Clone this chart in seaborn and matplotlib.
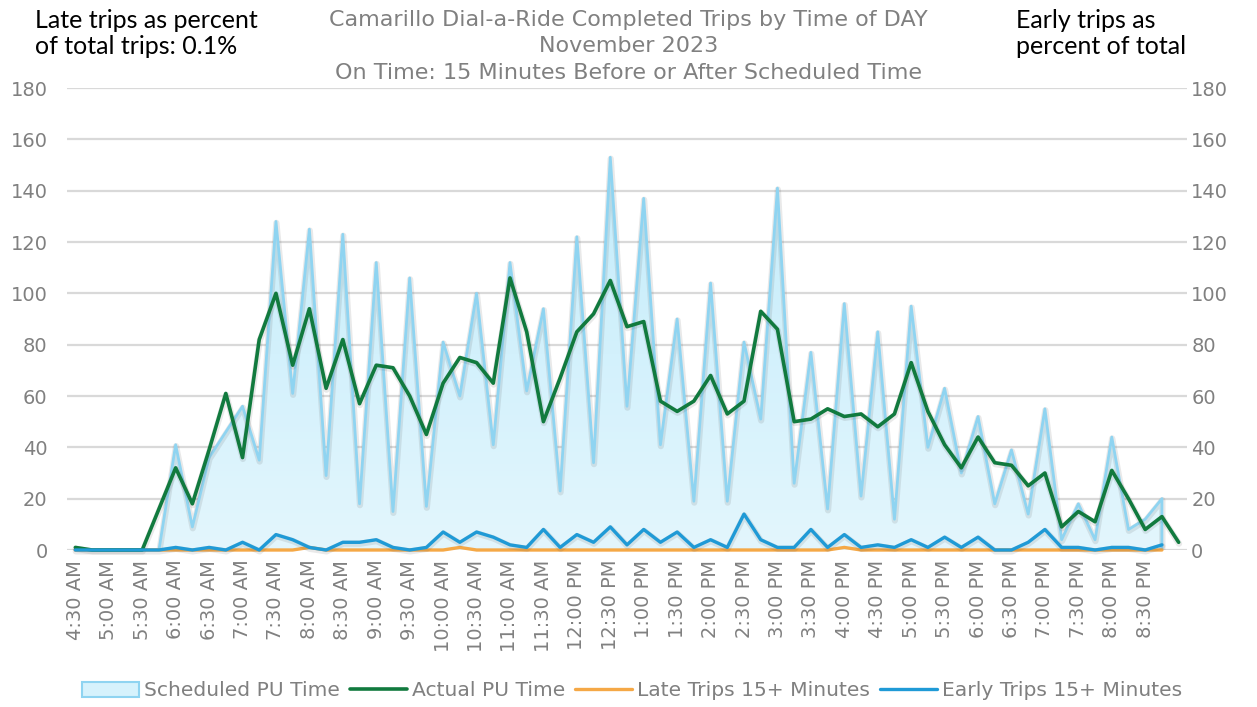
import matplotlib
matplotlib.use("Agg")
import matplotlib.pyplot as plt
import matplotlib.patheffects as pe
from matplotlib.colors import LinearSegmentedColormap
from matplotlib.patches import Patch
from matplotlib.lines import Line2D
import numpy as np
import pandas as pd
import seaborn as sns

# trips per 15-minute slot, 4:30 AM .. 9:00 PM
scheduled = [0, 0, 0, 0, 0, 0, 41, 9, 36, 46, 56, 35, 128, 61, 125, 29, 123, 18, 112, 15,
             106, 17, 81, 60, 100, 41, 112, 62, 94, 23, 122, 34, 153, 56, 137, 41, 90, 19, 104, 19,
             81, 51, 141, 26, 77, 16, 96, 21, 85, 12, 95, 40, 63, 30, 52, 18, 39, 14, 55, 4,
             18, 4, 44, 8, 12, 20]
actual = [1, 0, 0, 0, 0, 16, 32, 18, 39, 61, 36, 82, 100, 72, 94, 63, 82, 57, 72, 71,
          60, 45, 65, 75, 73, 65, 106, 85, 50, 67, 85, 92, 105, 87, 89, 58, 54, 58, 68, 53,
          58, 93, 86, 50, 51, 55, 52, 53, 48, 53, 73, 54, 41, 32, 44, 34, 33, 25, 30, 9,
          15, 11, 31, 20, 8, 13, 3]
late = [0, 0, 0, 0, 0, 0, 0, 0, 0, 0, 0, 0, 0, 0, 1, 0, 0, 0, 0, 0,
        0, 0, 0, 1, 0, 0, 0, 0, 0, 0, 0, 0, 0, 0, 0, 0, 0, 0, 0, 0,
        0, 0, 0, 0, 0, 0, 1, 0, 0, 0, 0, 0, 0, 0, 0, 0, 0, 0, 0, 0,
        0, 0, 0, 0, 0, 0]
early = [0, 0, 0, 0, 0, 0, 1, 0, 1, 0, 3, 0, 6, 4, 1, 0, 3, 3, 4, 1,
         0, 1, 7, 3, 7, 5, 2, 1, 8, 1, 6, 3, 9, 2, 8, 3, 7, 1, 4, 1,
         14, 4, 1, 1, 8, 1, 6, 1, 2, 1, 4, 1, 5, 1, 5, 0, 0, 3, 8, 1,
         1, 0, 1, 1, 0, 2]
time_labels = ["4:30 AM", "5:00 AM", "5:30 AM", "6:00 AM", "6:30 AM", "7:00 AM", "7:30 AM",
               "8:00 AM", "8:30 AM", "9:00 AM", "9:30 AM", "10:00 AM", "10:30 AM", "11:00 AM",
               "11:30 AM", "12:00 PM", "12:30 PM", "1:00 PM", "1:30 PM", "2:00 PM", "2:30 PM",
               "3:00 PM", "3:30 PM", "4:00 PM", "4:30 PM", "5:00 PM", "5:30 PM", "6:00 PM",
               "6:30 PM", "7:00 PM", "7:30 PM", "8:00 PM", "8:30 PM"]

slots = np.arange(len(actual))
df = pd.DataFrame({"slot": slots, "actual": actual})
df_s = pd.DataFrame({"slot": slots[:len(scheduled)], "scheduled": scheduled,
                     "late": late, "early": early})

sns.set_theme(style="white")
plt.rcParams["font.family"] = ["DejaVu Sans"]
gray = "#808080"
c_sched_edge = "#8fd4f1"
c_actual = "#117a3e"
c_late = "#f5a846"
c_early = "#1f9ad6"

fig = plt.figure(figsize=(12.57, 7.07), dpi=100)
ax = fig.add_axes([67 / 1257, 1 - 550 / 707, 1120 / 1257, 462 / 707])

# scheduled area with a soft vertical gradient
poly = ax.fill_between(df_s["slot"], df_s["scheduled"], 0, color="none", lw=0)
grad = np.linspace(0, 1, 256).reshape(-1, 1)
cmap = LinearSegmentedColormap.from_list("sched", ["#e3f6fd", "#c3ecfb"])
im = ax.imshow(grad, extent=[-0.5, len(actual) - 0.5, 0, max(scheduled)], origin="lower",
               aspect="auto", cmap=cmap, zorder=1)
im.set_clip_path(poly.get_paths()[0], transform=ax.transData)

shadow = [pe.SimpleLineShadow(offset=(0.3, -1.0), shadow_color="#555555", alpha=0.13, linewidth=4.5),
          pe.Normal()]
edge_x = np.append(df_s["slot"].values, df_s["slot"].values[-1])
edge_y = np.append(df_s["scheduled"].values, 0)
ax.plot(edge_x, edge_y, color=c_sched_edge, lw=2, zorder=2, path_effects=shadow)

sns.lineplot(data=df, x="slot", y="actual", color=c_actual, lw=2.6, estimator=None,
             ax=ax, zorder=4, clip_on=False, path_effects=shadow)
sns.lineplot(data=df_s, x="slot", y="late", color=c_late, lw=2.4, estimator=None,
             ax=ax, zorder=3, clip_on=False)
sns.lineplot(data=df_s, x="slot", y="early", color=c_early, lw=2.4, estimator=None,
             ax=ax, zorder=5, clip_on=False, path_effects=shadow)

ax.set_xlim(-0.5, len(actual) - 0.5)
ax.set_ylim(0, 180)
ax.set_yticks(range(0, 181, 20))
ax.set_xticks(slots[::2][:len(time_labels)])
ax.set_xticklabels(time_labels, rotation=90, va="top", ha="center")
ax.set_xlabel("")
ax.set_ylabel("")
ax.yaxis.grid(True, color="#d9d9d9", lw=1.6)
ax.set_axisbelow(True)
for s in ax.spines.values():
    s.set_visible(False)
ax.tick_params(axis="y", length=0, pad=14, labelsize=14, labelcolor=gray)
ax.tick_params(axis="x", length=0, pad=7, labelsize=14, labelcolor=gray)

ax2 = ax.twinx()
ax2.set_ylim(0, 180)
ax2.set_yticks(range(0, 181, 20))
for s in ax2.spines.values():
    s.set_visible(False)
ax2.tick_params(axis="y", length=0, pad=3, labelsize=14, labelcolor=gray)
ax2.grid(False)

# titles and corner notes
fig.text(0.5, 1 - 20 / 707, "Camarillo Dial-a-Ride Completed Trips by Time of DAY",
         ha="center", va="center", fontsize=16, color=gray)
fig.text(0.5, 1 - 46 / 707, "November 2023", ha="center", va="center", fontsize=16, color=gray)
fig.text(0.5, 1 - 73 / 707, "On Time: 15 Minutes Before or After Scheduled Time",
         ha="center", va="center", fontsize=16, color=gray)
corner = dict(va="center", fontsize=18, color="black", family=["Lato", "DejaVu Sans"])
fig.text(35 / 1257, 1 - 20 / 707, "Late trips as percent", ha="left", **corner)
fig.text(35 / 1257, 1 - 46 / 707, "of total trips: 0.1%", ha="left", **corner)
fig.text(1016 / 1257, 1 - 20 / 707, "Early trips as", ha="left", **corner)
fig.text(1016 / 1257, 1 - 46 / 707, "percent of total", ha="left", **corner)

handles = [Patch(facecolor="#d6f2fc", edgecolor=c_sched_edge, lw=1.5),
           Line2D([], [], color=c_actual, lw=2.6),
           Line2D([], [], color=c_late, lw=2.4),
           Line2D([], [], color=c_early, lw=2.4)]
labels = ["Scheduled PU Time", "Actual PU Time", "Late Trips 15+ Minutes", "Early Trips 15+ Minutes"]
leg = fig.legend(handles, labels, loc="center", bbox_to_anchor=(0.503, 1 - 691 / 707), ncol=4,
                 frameon=False, fontsize=14.6, handlelength=2.8, handletextpad=0.25,
                 columnspacing=0.5)
for t in leg.get_texts():
    t.set_color(gray)

fig.savefig("out.png", dpi=100)
